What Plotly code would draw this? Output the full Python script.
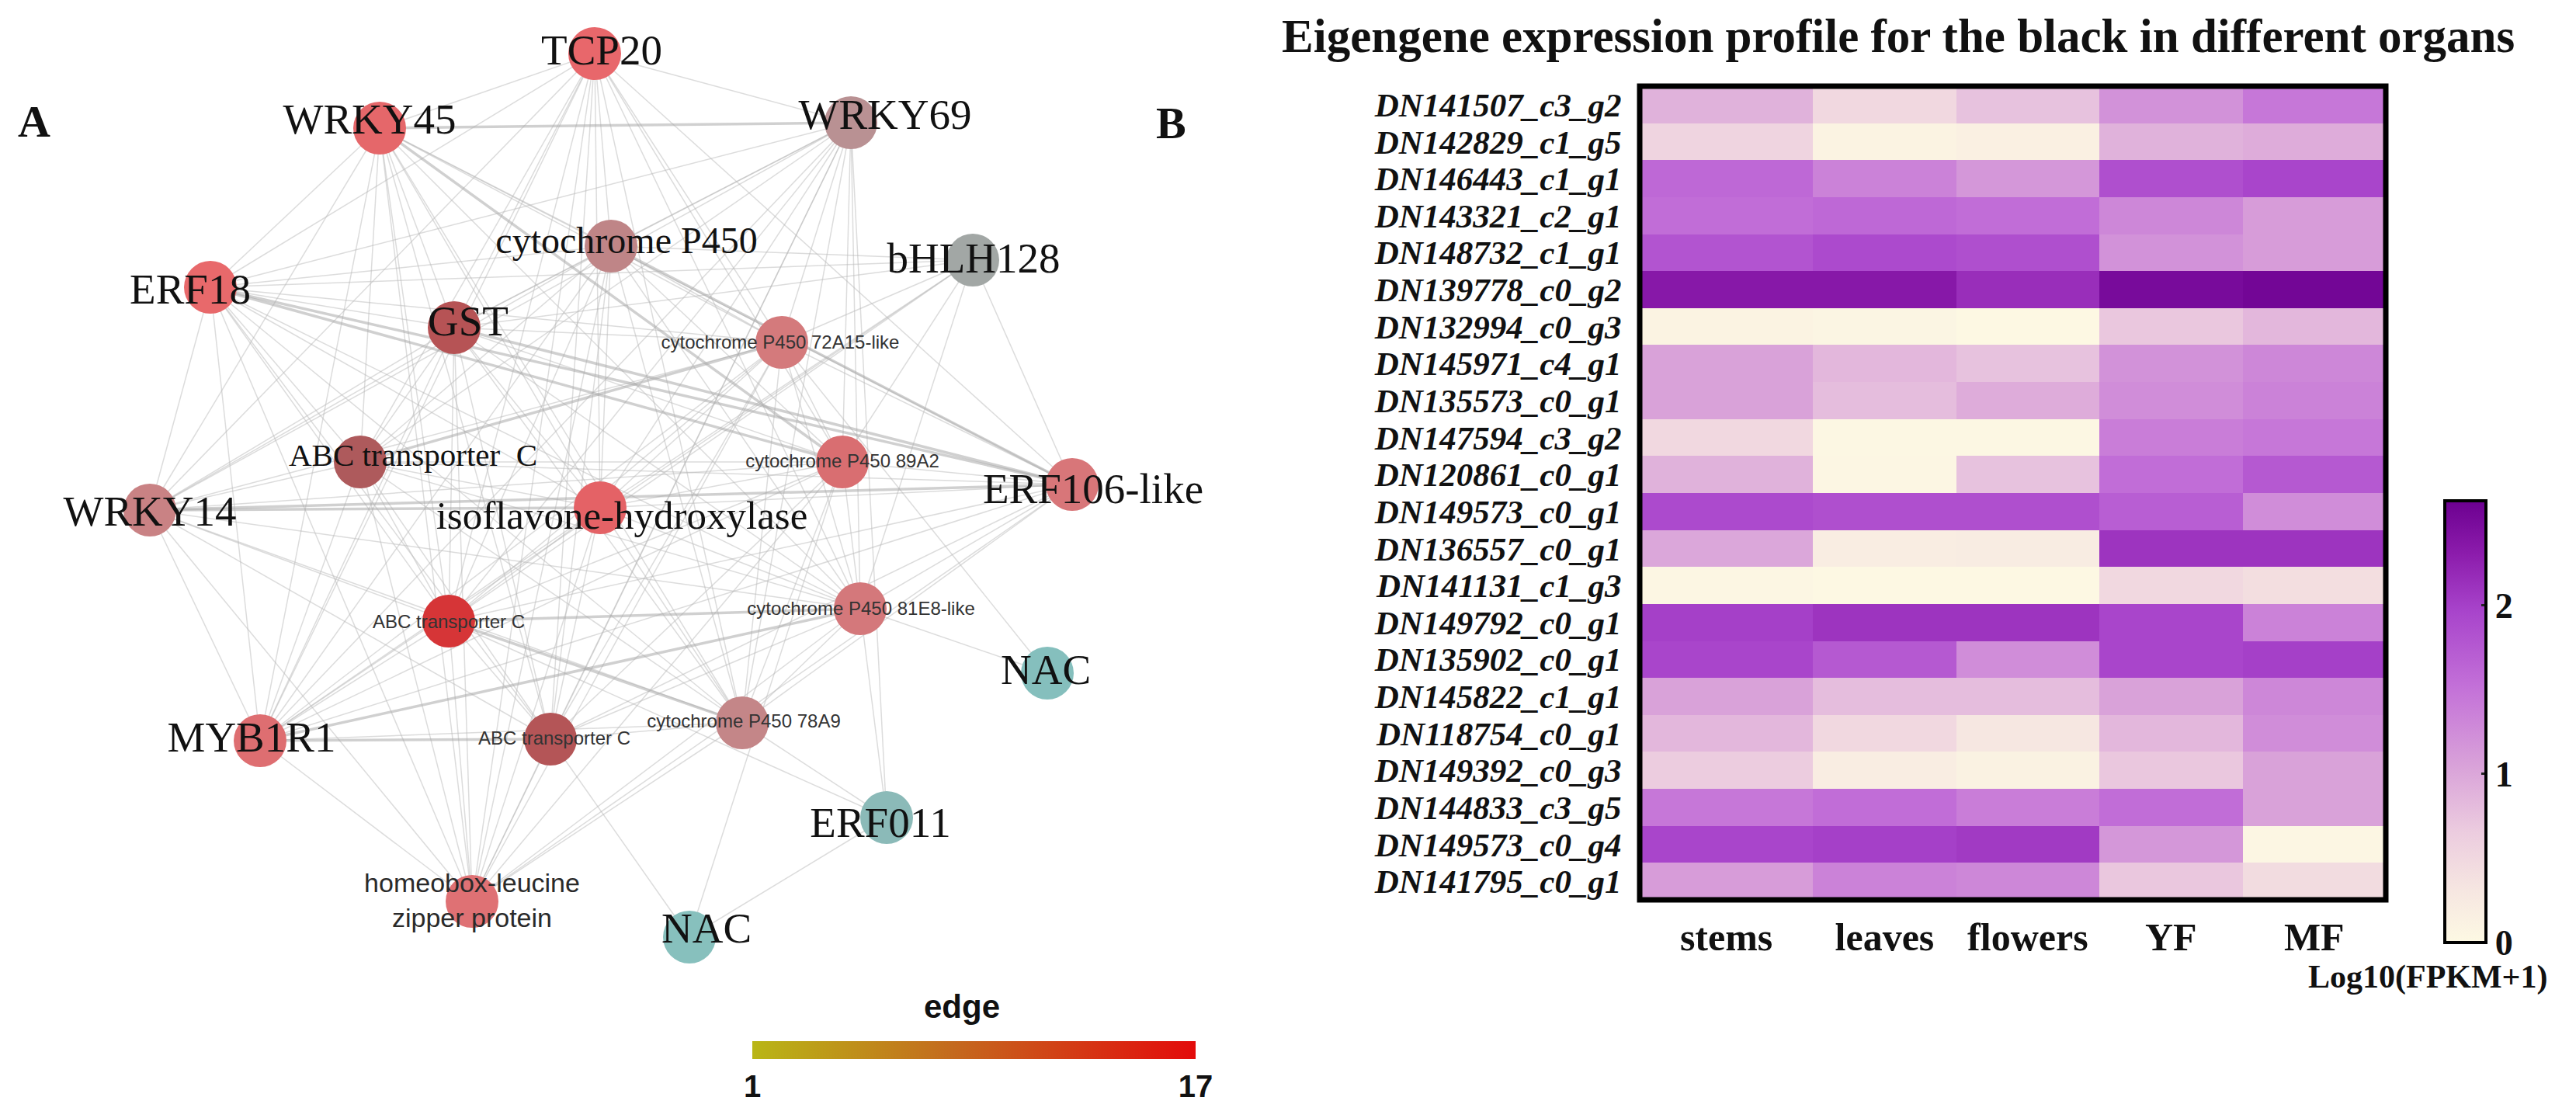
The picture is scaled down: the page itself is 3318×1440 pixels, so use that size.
import plotly.graph_objects as go

# ---------------- Network (panel A) data ----------------
node_ids = ["TCP20", "WRKY45", "WRKY69", "CYP450", "bHLH128", "ERF18", "GST",
            "CYP72A15", "ABC1", "CYP89A2", "ERF106", "WRKY14", "ISOF", "ABC2",
            "CYP81E8", "MYB1R1", "ABC3", "CYP78A9", "NAC1", "ERF011", "HDZIP", "NAC2"]
node_labels = ["TCP20", "WRKY45", "WRKY69", "cytochrome P450", "bHLH128", "ERF18", "GST",
               "cytochrome P450 72A15-like", "ABC transporter\u00a0\u00a0C", "cytochrome P450 89A2",
               "ERF106-like", "WRKY14", "isoflavone-hydroxylase", "ABC transporter C",
               "cytochrome P450 81E8-like", "MYB1R1", "ABC transporter C", "cytochrome P450 78A9",
               "NAC", "ERF011", "homeobox-leucine<br>zipper protein", "NAC"]
node_x = [766, 489, 1096, 787, 1253, 271, 585, 1007, 464, 1085, 1381, 193, 773, 578,
          1108, 335, 709, 956, 1349, 1142, 608, 888]
node_y = [69, 165, 158, 317, 335, 370, 422, 441, 595, 595, 624, 657, 654, 800,
          784, 954, 952, 931, 867, 1053, 1161, 1207]
label_x = [775, 476, 1140, 807, 1254, 245, 603, 1005, 532, 1085, 1408, 193, 801, 578,
           1109, 324, 714, 958, 1347, 1134, 608, 910]
label_y = [69, 158, 152, 314, 337, 377, 418, 443, 590, 596, 634, 663, 668, 803,
           786, 954, 953, 931, 867, 1064, 1163, 1200]
label_group = ["big", "big", "big", "mid", "big", "big", "big", "small", "abc", "small",
               "big", "big", "iso", "small", "small", "big", "small", "small", "big", "big",
               "hd", "big"]
node_colors = ["#e8676b", "#e5676a", "#b99193", "#bf8587", "#a2a7a5", "#e8696b", "#b65355",
               "#d47a7c", "#ae5a5c", "#d96e71", "#d87679", "#c98284", "#e46266", "#d63537",
               "#d4787b", "#de6e71", "#b45557", "#c48688", "#85bfbd", "#8bbab8", "#df7174",
               "#87c0bd"]

edges = {
    "TCP20": ["WRKY45", "WRKY69", "ERF18", "GST", "ABC1", "WRKY14", "ISOF", "ABC2", "MYB1R1",
              "ABC3", "HDZIP", "CYP72A15", "CYP89A2", "CYP81E8", "CYP78A9", "ERF106", "CYP450"],
    "WRKY45": ["WRKY69", "ERF18", "GST", "ABC1", "WRKY14", "ISOF", "ABC2", "MYB1R1", "ABC3",
               "HDZIP", "CYP72A15", "CYP89A2", "CYP81E8", "CYP78A9", "ERF106", "CYP450"],
    "WRKY69": ["CYP450", "GST", "ABC1", "ISOF", "ABC2", "ABC3", "HDZIP", "CYP72A15", "CYP89A2",
               "CYP81E8", "CYP78A9", "MYB1R1", "ERF18", "WRKY14", "ERF011"],
    "CYP450": ["ERF18", "GST", "ABC1", "ISOF", "ABC2", "ABC3", "HDZIP", "CYP72A15", "CYP89A2",
               "CYP81E8", "CYP78A9", "MYB1R1", "ERF106", "WRKY14", "bHLH128"],
    "bHLH128": ["ERF18", "CYP72A15", "CYP89A2", "CYP81E8", "ABC2", "MYB1R1", "ERF106", "ISOF", "GST"],
    "ERF18": ["GST", "ABC1", "WRKY14", "ISOF", "ABC2", "MYB1R1", "ABC3", "HDZIP", "CYP72A15",
              "CYP89A2", "CYP81E8", "CYP78A9", "ERF106"],
    "GST": ["ABC1", "WRKY14", "ISOF", "ABC2", "MYB1R1", "ABC3", "HDZIP", "CYP72A15", "CYP89A2",
            "CYP81E8", "CYP78A9", "ERF106"],
    "CYP72A15": ["ABC1", "WRKY14", "ISOF", "ABC2", "MYB1R1", "ABC3", "HDZIP", "CYP89A2",
                 "CYP81E8", "CYP78A9", "ERF106", "NAC1"],
    "ABC1": ["WRKY14", "ISOF", "ABC2", "MYB1R1", "ABC3", "HDZIP", "CYP89A2", "CYP81E8",
             "CYP78A9", "ERF106"],
    "CYP89A2": ["WRKY14", "ISOF", "ABC2", "MYB1R1", "ABC3", "HDZIP", "CYP81E8", "CYP78A9",
                "ERF106", "NAC2"],
    "ERF106": ["WRKY14", "ISOF", "ABC2", "MYB1R1", "ABC3", "HDZIP", "CYP81E8", "CYP78A9"],
    "WRKY14": ["ISOF", "ABC2", "MYB1R1", "ABC3", "HDZIP", "CYP81E8", "CYP78A9"],
    "ISOF": ["ABC2", "MYB1R1", "ABC3", "HDZIP", "CYP81E8", "CYP78A9"],
    "ABC2": ["MYB1R1", "ABC3", "HDZIP", "CYP81E8", "CYP78A9", "ERF011"],
    "CYP81E8": ["MYB1R1", "ABC3", "HDZIP", "CYP78A9", "NAC1", "ERF011"],
    "MYB1R1": ["ABC3", "HDZIP", "CYP78A9"],
    "ABC3": ["HDZIP", "CYP78A9", "NAC2"],
    "CYP78A9": ["HDZIP", "ERF011"],
    "ERF011": ["NAC2"],
}
strong_edges = [("ERF18", "ERF106"), ("MYB1R1", "ABC3"), ("WRKY45", "CYP89A2"),
                ("ABC2", "CYP81E8"), ("ABC3", "ERF011"), ("CYP450", "ERF106"),
                ("GST", "ERF106"), ("WRKY45", "WRKY69"), ("ERF18", "CYP89A2"),
                ("WRKY14", "ERF106"), ("ABC1", "CYP72A15"), ("MYB1R1", "CYP81E8"),
                ("WRKY14", "ISOF"), ("ABC2", "CYP78A9")]

edge_scale_min, edge_scale_max = 1, 17

# ---------------- Heatmap (panel B) data ----------------
genes = ["DN141507_c3_g2", "DN142829_c1_g5", "DN146443_c1_g1", "DN143321_c2_g1",
         "DN148732_c1_g1", "DN139778_c0_g2", "DN132994_c0_g3", "DN145971_c4_g1",
         "DN135573_c0_g1", "DN147594_c3_g2", "DN120861_c0_g1", "DN149573_c0_g1",
         "DN136557_c0_g1", "DN141131_c1_g3", "DN149792_c0_g1", "DN135902_c0_g1",
         "DN145822_c1_g1", "DN118754_c0_g1", "DN149392_c0_g3", "DN144833_c3_g5",
         "DN149573_c0_g4", "DN141795_c0_g1"]
organs = ["stems", "leaves", "flowers", "YF", "MF"]
expr = [
    [0.90, 0.50, 0.75, 1.20, 1.45],
    [0.55, 0.10, 0.15, 0.90, 0.95],
    [1.60, 1.35, 1.15, 1.85, 1.95],
    [1.55, 1.60, 1.55, 1.30, 1.10],
    [1.80, 1.90, 1.85, 1.20, 1.10],
    [2.35, 2.35, 2.15, 2.50, 2.55],
    [0.10, 0.07, 0.02, 0.70, 0.85],
    [1.05, 0.85, 0.75, 1.20, 1.30],
    [1.05, 0.80, 0.95, 1.25, 1.35],
    [0.50, 0.03, 0.03, 1.40, 1.45],
    [0.90, 0.05, 0.75, 1.55, 1.75],
    [1.90, 1.85, 1.85, 1.70, 1.25],
    [1.00, 0.20, 0.22, 2.10, 2.10],
    [0.05, 0.02, 0.02, 0.50, 0.42],
    [2.00, 2.10, 2.10, 1.95, 1.35],
    [1.95, 1.75, 1.25, 1.95, 2.00],
    [1.05, 0.80, 0.80, 1.05, 1.30],
    [0.85, 0.50, 0.30, 0.85, 1.25],
    [0.65, 0.20, 0.12, 0.70, 1.05],
    [1.45, 1.55, 1.40, 1.55, 1.05],
    [1.95, 2.00, 2.05, 1.15, 0.05],
    [1.10, 1.35, 1.30, 0.70, 0.45],
]
expr_ticks = [0, 1, 2]
expr_min, expr_max = 0, 2.62

# ---------------- styles / layout ----------------
W, H = 3318, 1440
SERIF = "Liberation Serif"
SANS = "Liberation Sans"
label_styles = {
    "big": dict(family=SERIF, size=55, color="#111111"),
    "mid": dict(family=SERIF, size=48, color="#111111"),
    "iso": dict(family=SERIF, size=51, color="#111111"),
    "abc": dict(family=SERIF, size=41, color="#111111"),
    "small": dict(family=SANS, size=24, color="#333333"),
    "hd": dict(family=SANS, size=34, color="#2a2a2a"),
}
col_widths = [1.21, 1.0, 1.0, 1.0, 1.0]
col_edges = [0.0]
for w in col_widths:
    col_edges.append(col_edges[-1] + w)
col_centers = [(col_edges[i] + col_edges[i + 1]) / 2 for i in range(len(organs))]

fig = go.Figure()

# edges
pos = {k: (node_x[i], node_y[i]) for i, k in enumerate(node_ids)}
strong = set(tuple(sorted(e)) for e in strong_edges)
thin_x, thin_y, thick_x, thick_y = [], [], [], []
for a, targets in edges.items():
    for b in targets:
        xa, ya = pos[a]
        xb, yb = pos[b]
        if tuple(sorted((a, b))) in strong:
            thick_x += [xa, xb, None]
            thick_y += [ya, yb, None]
        else:
            thin_x += [xa, xb, None]
            thin_y += [ya, yb, None]
fig.add_trace(go.Scatter(x=thin_x, y=thin_y, mode="lines", hoverinfo="skip",
                         line=dict(color="rgba(185,185,185,0.5)", width=1.5),
                         showlegend=False, xaxis="x", yaxis="y"))
fig.add_trace(go.Scatter(x=thick_x, y=thick_y, mode="lines", hoverinfo="skip",
                         line=dict(color="rgba(170,170,170,0.55)", width=3.5),
                         showlegend=False, xaxis="x", yaxis="y"))

# nodes
fig.add_trace(go.Scatter(x=node_x, y=node_y, mode="markers", hoverinfo="skip",
                         marker=dict(size=68, color=node_colors, line=dict(width=0)),
                         showlegend=False, xaxis="x", yaxis="y"))

# labels by group
for g, style in label_styles.items():
    idx = [i for i, lg in enumerate(label_group) if lg == g]
    fig.add_trace(go.Scatter(x=[label_x[i] for i in idx], y=[label_y[i] for i in idx],
                             text=[node_labels[i] for i in idx], mode="text",
                             textposition="middle center", textfont=style,
                             hoverinfo="skip", showlegend=False, xaxis="x", yaxis="y"))

# edge colour bar (legend of network)
fig.add_trace(go.Scatter(
    x=[node_x[0]], y=[node_y[0]], mode="markers", hoverinfo="skip", showlegend=False,
    xaxis="x", yaxis="y",
    marker=dict(size=1, opacity=0, color=[edge_scale_min], cmin=edge_scale_min,
                cmax=edge_scale_max,
                colorscale=[[0, "#b9b616"], [0.45, "#c46a1e"], [1, "#e30b0b"]],
                showscale=True,
                colorbar=dict(orientation="h", x=1254.5 / W, xanchor="center",
                              y=1 - 1408 / H, yanchor="bottom", len=571, lenmode="pixels",
                              thickness=23, thicknessmode="pixels", outlinewidth=0,
                              xpad=0, ypad=0, ticks="",
                              tickvals=[edge_scale_min, edge_scale_max],
                              tickfont=dict(family=SANS, size=40, color="#111", weight="bold")))))

# heatmap
purple = [[0, "#fdf9e3"], [0.12, "#f6e6e1"], [0.25, "#ecccdf"], [0.4, "#d9a2d9"],
          [0.58, "#c370d8"], [0.75, "#a844cb"], [0.88, "#8c1cac"], [1, "#6c0090"]]
fig.add_trace(go.Heatmap(
    z=expr, x=col_edges, y=genes, colorscale=purple, zmin=expr_min, zmax=expr_max,
    xaxis="x2", yaxis="y2", hoverinfo="skip", xgap=0, ygap=0,
    colorbar=dict(x=3149 / W, xanchor="left", y=1 - 1214 / H, yanchor="bottom",
                  len=569, lenmode="pixels", thickness=53, thicknessmode="pixels",
                  outlinecolor="#000", outlinewidth=4, xpad=0, ypad=0,
                  tickvals=expr_ticks, ticks="inside", ticklen=8, tickwidth=3,
                  tickcolor="#222",
                  tickfont=dict(family=SERIF, size=46, color="#111", weight="bold"))))

fig.update_layout(
    width=W, height=H, autosize=False,
    margin=dict(l=0, r=0, t=0, b=0),
    paper_bgcolor="white", plot_bgcolor="rgba(0,0,0,0)",
    xaxis=dict(domain=[0, 1600 / W], range=[0, 1600], visible=False, fixedrange=True),
    yaxis=dict(domain=[0, 1], range=[H, 0], visible=False, fixedrange=True),
    xaxis2=dict(domain=[2112 / W, 3073 / W], range=[0, col_edges[-1]], anchor="y2",
                tickmode="array", tickvals=col_centers, ticktext=organs,
                showgrid=False, zeroline=False,
                ticks="outside", ticklen=4, tickcolor="rgba(0,0,0,0)",
                tickfont=dict(family=SERIF, size=50, color="#111", weight="bold")),
    yaxis2=dict(domain=[1 - 1159 / H, 1 - 111 / H], anchor="x2", type="category",
                autorange="reversed", showgrid=False, zeroline=False,
                tickmode="array", tickvals=genes, ticktext=genes,
                ticks="outside", ticklen=14, tickcolor="rgba(0,0,0,0)",
                tickfont=dict(family=SERIF, size=43, color="#111", weight="bold",
                              style="italic")),
    shapes=[dict(type="rect", xref="x2 domain", yref="y2 domain", x0=0, x1=1, y0=0, y1=1,
                 line=dict(color="#000", width=7), fillcolor="rgba(0,0,0,0)")],
    annotations=[
        dict(text="Eigengene expression profile for the black in different organs",
             x=2444.5 / W, y=1 - 46 / H, xref="paper", yref="paper", showarrow=False,
             xanchor="center", yanchor="middle",
             font=dict(family=SERIF, size=61, color="#111", weight="bold")),
        dict(text="Log10(FPKM+1)", x=3127 / W, y=1 - 1258 / H, xref="paper", yref="paper",
             showarrow=False, xanchor="center", yanchor="middle",
             font=dict(family=SERIF, size=42, color="#111", weight="bold")),
        dict(text="edge", x=1239 / W, y=1 - 1296 / H, xref="paper", yref="paper",
             showarrow=False, xanchor="center", yanchor="middle",
             font=dict(family=SANS, size=42, color="#111", weight="bold")),
        dict(text="A", x=44 / W, y=1 - 156 / H, xref="paper", yref="paper", showarrow=False,
             xanchor="center", yanchor="middle",
             font=dict(family=SERIF, size=58, color="#111", weight="bold")),
        dict(text="B", x=1508 / W, y=1 - 158 / H, xref="paper", yref="paper", showarrow=False,
             xanchor="center", yanchor="middle",
             font=dict(family=SERIF, size=58, color="#111", weight="bold")),
    ],
)

fig.write_html("out.html", config={"displayModeBar": False},
               post_script="document.body.style.margin='0';"
                           "document.body.style.overflow='hidden';")
